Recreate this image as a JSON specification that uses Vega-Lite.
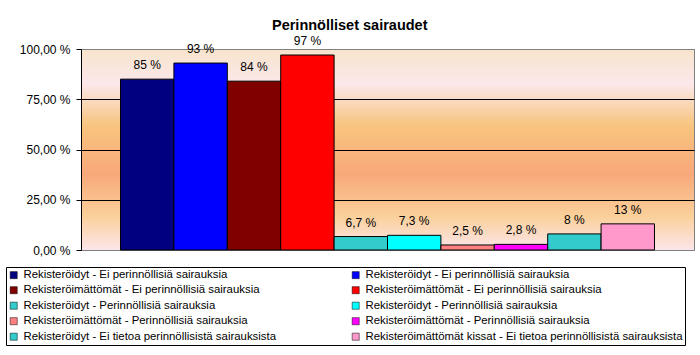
{
  "$schema": "https://vega.github.io/schema/vega-lite/v6.json",
  "width": 613,
  "height": 201,
  "autosize": {"type": "none"},
  "padding": {"top": 49, "left": 81, "right": 6, "bottom": 105},
  "background": "white",
  "title": {
    "text": "Perinnölliset sairaudet",
    "font": "Liberation Sans",
    "fontSize": 14.5,
    "fontWeight": "bold",
    "color": "black",
    "anchor": "middle",
    "frame": "bounds",
    "offset": 2
  },
  "view": {
    "stroke": "#808080",
    "strokeWidth": 1,
    "fill": {
      "gradient": "linear",
      "x1": 0, "y1": 0, "x2": 0, "y2": 1,
      "stops": [
        {"offset": 0, "color": "#f8e4cc"},
        {"offset": 0.17, "color": "#fbe8ea"},
        {"offset": 0.38, "color": "#f8c47e"},
        {"offset": 0.62, "color": "#f8a87a"},
        {"offset": 0.83, "color": "#fad09a"},
        {"offset": 1, "color": "#fce6ec"}
      ]
    }
  },
  "data": {
    "values": [
      {"s": "01|Rekisteröidyt - Ei perinnöllisiä sairauksia", "v": 85},
      {"s": "02|Rekisteröidyt - Ei perinnöllisiä sairauksia", "v": 93},
      {"s": "03|Rekisteröimättömät - Ei perinnöllisiä sairauksia", "v": 84},
      {"s": "04|Rekisteröimättömät - Ei perinnöllisiä sairauksia", "v": 97},
      {"s": "05|Rekisteröidyt - Perinnöllisiä sairauksia", "v": 6.7},
      {"s": "06|Rekisteröidyt - Perinnöllisiä sairauksia", "v": 7.3},
      {"s": "07|Rekisteröimättömät - Perinnöllisiä sairauksia", "v": 2.5},
      {"s": "08|Rekisteröimättömät - Perinnöllisiä sairauksia", "v": 2.8},
      {"s": "09|Rekisteröidyt - Ei tietoa perinnöllisistä sairauksista", "v": 8},
      {"s": "10|Rekisteröimättömät kissat - Ei tietoa perinnöllisistä sairauksista", "v": 13}
    ]
  },
  "transform": [
    {"calculate": "replace(toString(datum.v), '.', ',') + ' %'", "as": "lbl"}
  ],
  "encoding": {
    "x": {
      "field": "s",
      "type": "nominal",
      "sort": null,
      "scale": {"paddingInner": 0, "paddingOuter": 0.74},
      "axis": null
    },
    "y": {
      "field": "v",
      "type": "quantitative",
      "scale": {"domain": [0, 100], "nice": false},
      "axis": {
        "title": null,
        "values": [0, 25, 50, 75, 100],
        "labelExpr": "replace(format(datum.value, '.2f'), '.', ',') + ' %'",
        "labelFont": "Liberation Sans",
        "labelFontSize": 12,
        "labelColor": "black",
        "labelPadding": 6,
        "tickColor": "black",
        "tickSize": 5,
        "domainColor": "black",
        "grid": true,
        "gridColor": {"condition": {"test": "datum.value >= 100 || datum.value <= 0", "value": "#808080"}, "value": "black"},
        "gridOpacity": 1,
        "gridWidth": 1
      }
    }
  },
  "layer": [
    {
      "mark": {"type": "bar", "stroke": "black", "strokeWidth": 1, "opacity": 1},
      "encoding": {
        "color": {
          "field": "s",
          "type": "nominal",
          "sort": null,
          "scale": {
            "range": ["#000080", "#0000ff", "#800000", "#ff0000", "#33cccc", "#00ffff", "#ff8080", "#ff00ff", "#33cccc", "#ff99cc"]
          },
          "legend": {
            "title": null,
            "orient": "none",
            "direction": "horizontal",
            "legendX": -75,
            "legendY": 218,
            "columns": 2,
            "gridAlign": "all",
            "columnPadding": 9,
            "rowPadding": 2.5,
            "padding": 2,
            "strokeColor": "black",
            "fillColor": "white",
            "symbolType": "square",
            "symbolSize": 50,
            "symbolStrokeColor": "black",
            "symbolStrokeWidth": 0.5,
            "symbolOpacity": 1,
            "labelFont": "Liberation Sans",
            "labelFontSize": 11.4,
            "labelColor": "black",
            "labelOffset": 4,
            "labelLimit": 0,
            "labelExpr": "split(datum.label, '|')[1]"
          }
        }
      }
    },
    {
      "mark": {"type": "text", "baseline": "bottom", "dy": -7, "font": "Liberation Sans", "fontSize": 12, "color": "black"},
      "encoding": {"text": {"field": "lbl"}}
    }
  ]
}
